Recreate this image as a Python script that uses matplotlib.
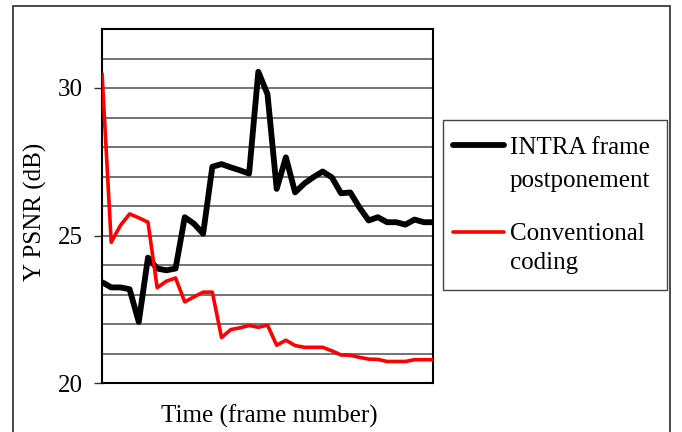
import matplotlib
matplotlib.use("Agg")
import matplotlib.pyplot as plt
from matplotlib.patches import Rectangle
from matplotlib.lines import Line2D
import numpy as np

frames = list(range(37))
intra_postponement = [23.42, 23.24, 23.24, 23.18, 22.07, 24.25, 23.88, 23.82, 23.88, 25.62,
                      25.40, 25.06, 27.33, 27.42, 27.31, 27.21, 27.10, 30.55, 29.79, 26.58,
                      27.65, 26.46, 26.76, 26.98, 27.17, 26.97, 26.43, 26.46, 25.95, 25.51,
                      25.62, 25.45, 25.45, 25.37, 25.54, 25.45, 25.45]
conventional = [30.52, 24.77, 25.34, 25.73, 25.60, 25.45, 23.23, 23.45, 23.56, 22.75,
                22.92, 23.08, 23.08, 21.54, 21.81, 21.87, 21.95, 21.89, 21.96, 21.28,
                21.45, 21.27, 21.21, 21.21, 21.21, 21.09, 20.95, 20.94, 20.87, 20.81,
                20.80, 20.73, 20.73, 20.73, 20.79, 20.79, 20.79]
series_labels = ["INTRA frame\npostponement", "Conventional\ncoding"]
y_ticks = [20, 25, 30]
x_label = "Time (frame number)"
y_label = "Y PSNR (dB)"

W, H = 682, 432
plt.rcParams['font.family'] = ['Liberation Serif', 'DejaVu Serif']
fig = plt.figure(figsize=(W / 100, H / 100), dpi=100)

def fx(px):
    return px / W

def fy(py):
    return 1 - py / H

# outer frame
fig.patches.append(Rectangle((fx(13), fy(445)), fx(670) - fx(13), fy(6) - fy(445),
                             transform=fig.transFigure, fill=False,
                             edgecolor='#3a3a3a', lw=1.3, clip_on=False))

ax = fig.add_axes([fx(102), fy(383), fx(433) - fx(102), fy(29) - fy(383)])
ax.set_xlim(0, 36)
ax.set_ylim(20, 32)

for g in range(21, 32):
    ax.axhline(g, color='#4d4d4d', lw=1.1, zorder=1)

ax.plot(frames, intra_postponement, color='black', lw=4.2, zorder=3,
        solid_joinstyle='round', solid_capstyle='butt')
ax.plot(frames, conventional, color='#ff0000', lw=2.6, zorder=4,
        solid_joinstyle='round', solid_capstyle='butt')

ax.set_yticks(y_ticks)
ax.set_yticklabels([str(t) for t in y_ticks], fontsize=18)
ax.tick_params(axis='y', direction='out', length=5.5, width=1.0, pad=8.5, color='#333333')
ax.set_xticks([])
for s in ax.spines.values():
    s.set_linewidth(1.5)
    s.set_color('black')

fig.text(fx(35), fy(212), y_label, rotation=90, ha='center', va='center', fontsize=18)
fig.text(fx(269), fy(423), x_label, ha='center', va='baseline', fontsize=18)

# legend box
fig.patches.append(Rectangle((fx(443), fy(290)), fx(667) - fx(443), fy(120) - fy(290),
                             transform=fig.transFigure, fill=False,
                             edgecolor='#444444', lw=1.0))
fig.lines.append(Line2D([fx(453), fx(504)], [fy(145), fy(145)], transform=fig.transFigure,
                        color='black', lw=4.2, solid_capstyle='round'))
fig.lines.append(Line2D([fx(453), fx(504)], [fy(232), fy(232)], transform=fig.transFigure,
                        color='#ff0000', lw=2.6, solid_capstyle='round'))
l1, l2 = series_labels[0].split("\n")
l3, l4 = series_labels[1].split("\n")
for txt, base in [(l1, 154), (l2, 187), (l3, 240), (l4, 269)]:
    fig.text(fx(510), fy(base), txt, ha='left', va='baseline', fontsize=18)

fig.savefig("out.png", dpi=100)
